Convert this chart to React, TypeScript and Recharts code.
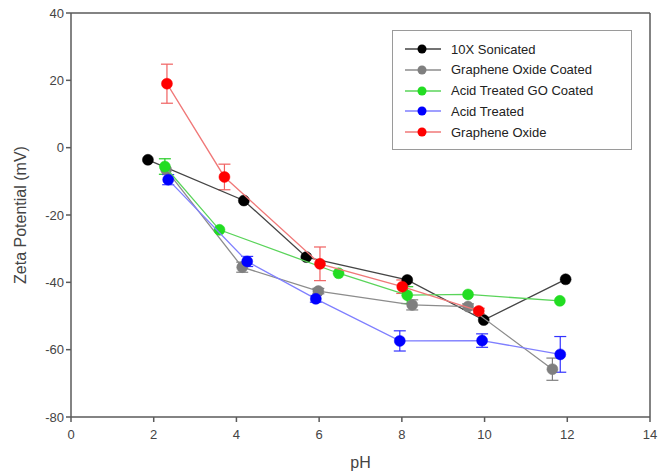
import React from "react";
import {
  ScatterChart,
  Scatter,
  XAxis,
  YAxis,
  ErrorBar,
  ReferenceLine,
} from "recharts";

// ---- Data ----
const sonicatedPH = [1.86, 4.18, 5.69, 8.13, 9.98, 11.96];
const sonicatedZeta = [-3.6, -15.7, -32.5, -39.3, -51.2, -39.1];
const sonicatedErr = [0, 0, 0, 0, 0, 0];

const goCoatedPH = [2.3, 4.14, 5.98, 8.25, 9.6, 11.64];
const goCoatedZeta = [-6.5, -35.5, -42.6, -46.7, -47.2, -65.8];
const goCoatedErr = [0, 1.5, 0.8, 1.5, 0.8, 3.3];

const atGoCoatedPH = [2.27, 3.59, 6.47, 8.13, 9.6, 11.82];
const atGoCoatedZeta = [-5.6, -24.4, -37.3, -43.8, -43.6, -45.5];
const atGoCoatedErr = [2.3, 0, 0, 2.5, 0, 0];

const acidTreatedPH = [2.35, 4.26, 5.92, 7.95, 9.94, 11.83];
const acidTreatedZeta = [-9.5, -33.8, -44.9, -57.4, -57.3, -61.4];
const acidTreatedErr = [1.5, 1.5, 1.0, 3.0, 2.0, 5.3];

const grapheneOxidePH = [2.32, 3.71, 6.02, 8.01, 9.86];
const grapheneOxideZeta = [19.0, -8.7, -34.5, -41.3, -48.5];
const grapheneOxideErr = [5.8, 3.8, 5.0, 2.0, 0.8];

const xTicks = [0, 2, 4, 6, 8, 10, 12, 14];
const yTicks = [-80, -60, -40, -20, 0, 20, 40];

const build = (ph: number[], zeta: number[], err: number[]) =>
  ph.map((p, i) => ({ ph: p, zeta: zeta[i], err: err[i] }));

const seriesList = [
  { name: "10X Sonicated", data: build(sonicatedPH, sonicatedZeta, sonicatedErr), fill: "#000000", line: "#454545", errColor: "#333333" },
  { name: "Graphene Oxide Coated", data: build(goCoatedPH, goCoatedZeta, goCoatedErr), fill: "#7f7f7f", line: "#8c8c8c", errColor: "#7f7f7f" },
  { name: "Acid Treated GO Coated", data: build(atGoCoatedPH, atGoCoatedZeta, atGoCoatedErr), fill: "#22dd22", line: "#5ad45a", errColor: "#22cc22" },
  { name: "Acid Treated", data: build(acidTreatedPH, acidTreatedZeta, acidTreatedErr), fill: "#0000ff", line: "#7f7fff", errColor: "#3333ff" },
  { name: "Graphene Oxide", data: build(grapheneOxidePH, grapheneOxideZeta, grapheneOxideErr), fill: "#ff0000", line: "#f07878", errColor: "#f06060" },
];

const AXIS = "#5a5a5a";
const FONT = "'Liberation Sans', Arial, sans-serif";

const makeDot = (color: string) => (props: any) => {
  const { cx, cy } = props;
  if (cx == null || cy == null) return <g />;
  return <circle cx={cx} cy={cy} r={5.5} fill={color} stroke={color} strokeWidth={0.5} />;
};

const LegendBox = () => (
  <div
    style={{
      position: "absolute",
      left: 392,
      top: 30,
      width: 240,
      height: 120,
      border: "1.5px solid #9a9a9a",
      boxSizing: "border-box",
      background: "#fff",
      fontFamily: FONT,
      fontSize: 13,
      color: "#222",
    }}
  >
    {seriesList.map((s, i) => (
      <div
        key={s.name}
        style={{ position: "absolute", left: 0, top: 8 + i * 20.8, height: 20, display: "flex", alignItems: "center" }}
      >
        <svg width={56} height={20} style={{ display: "block" }}>
          <line x1={12} y1={10} x2={48} y2={10} stroke={s.line} strokeWidth={1.5} />
          <circle cx={29} cy={10} r={4.5} fill={s.fill} />
        </svg>
        <span style={{ marginLeft: 2, whiteSpace: "nowrap" }}>{s.name}</span>
      </div>
    ))}
  </div>
);

export default function App() {
  return (
    <div style={{ position: "absolute", left: 0, top: 0, width: 661, height: 474, background: "#fff" }}>
      <ScatterChart
        width={661}
        height={474}
        margin={{ top: 13, right: 11, left: 0, bottom: 0 }}
        style={{ fontFamily: FONT }}
      >
        <XAxis
          type="number"
          dataKey="ph"
          domain={[0, 14]}
          ticks={xTicks}
          allowDataOverflow
          height={57}
          stroke={AXIS}
          strokeWidth={1.5}
          tickSize={5}
          tickMargin={8}
          tick={{ fill: "#444", fontSize: 13, fontFamily: FONT }}
          label={{ value: "pH", position: "insideBottom", offset: 6, fill: "#444", fontSize: 16, fontFamily: FONT }}
        />
        <YAxis
          type="number"
          dataKey="zeta"
          domain={[-80, 40]}
          ticks={yTicks}
          allowDataOverflow
          width={71}
          stroke={AXIS}
          strokeWidth={1.5}
          tickSize={5}
          tick={{ fill: "#444", fontSize: 13, fontFamily: FONT }}
          label={{
            value: "Zeta Potential (mV)",
            angle: -90,
            position: "insideLeft",
            offset: 20,
            style: { textAnchor: "middle" },
            fill: "#444",
            fontSize: 16,
            fontFamily: FONT,
          }}
        />
        <ReferenceLine y={40} stroke={AXIS} strokeWidth={1.5} />
        <ReferenceLine x={14} stroke={AXIS} strokeWidth={1.5} />
        {seriesList.map((s) => (
          <Scatter
            key={s.name}
            name={s.name}
            data={s.data}
            fill={s.fill}
            line={{ stroke: s.line, strokeWidth: 1.3 }}
            lineType="joint"
            shape={makeDot(s.fill)}
            isAnimationActive={false}
          >
            <ErrorBar dataKey="err" direction="y" width={6} stroke={s.errColor} strokeWidth={1.2} />
          </Scatter>
        ))}
      </ScatterChart>
      <LegendBox />
    </div>
  );
}
